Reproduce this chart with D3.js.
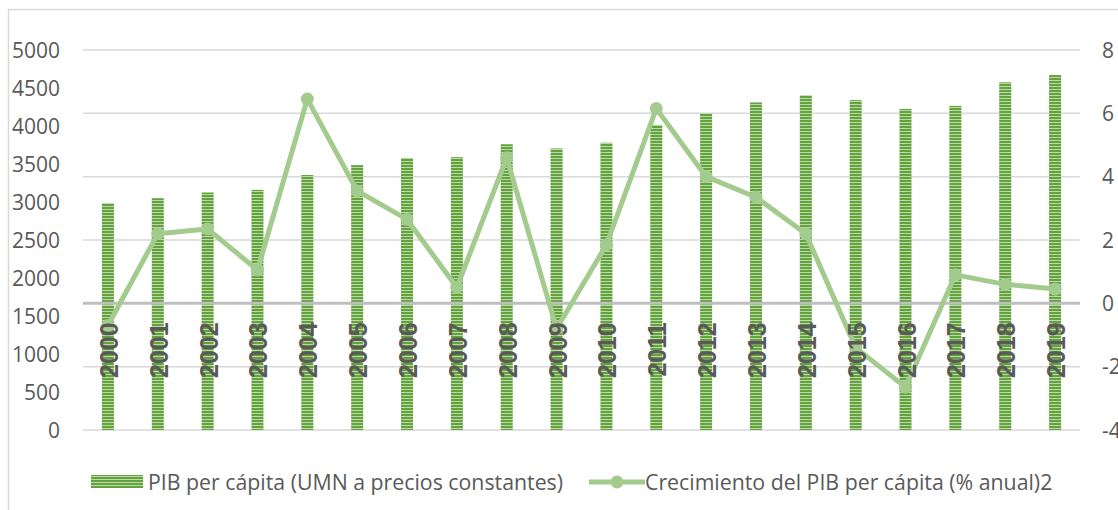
<!DOCTYPE html>
<html>
<head>
<meta charset="utf-8">
<script src="https://cdn.jsdelivr.net/npm/d3@7/dist/d3.min.js"></script>
<style>
  html, body { margin: 0; padding: 0; background: #fff; }
  svg { display: block; }
  text { font-family: "Open Sans", "Noto Sans", sans-serif; fill: #595959; }
</style>
</head>
<body>
<svg id="chart" width="1118" height="510"></svg>
<script>
// Years shown on the category axis
const years = ["2000","2001","2002","2003","2004","2005","2006","2007","2008","2009",
               "2010","2011","2012","2013","2014","2015","2016","2017","2018","2019"];

// PIB per cápita (UMN a precios constantes)
const pibPerCapita = [2985, 3050, 3125, 3160, 3355, 3485, 3580, 3590, 3760, 3705,
                      3780, 4015, 4165, 4310, 4405, 4340, 4225, 4265, 4575, 4670];

// Crecimiento del PIB per cápita (% anual)
const crecimiento = [-0.7, 2.2, 2.35, 1.05, 6.45, 3.55, 2.65, 0.5, 4.6, -0.8,
                     1.85, 6.15, 4.0, 3.35, 2.2, -1.4, -2.65, 0.9, 0.6, 0.45];

// Axis tick values
const leftTicks = [0, 500, 1000, 1500, 2000, 2500, 3000, 3500, 4000, 4500, 5000];
const rightTicks = [-4, -2, 0, 2, 4, 6, 8];

const seriesNames = ["PIB per cápita (UMN a precios constantes)",
                     "Crecimiento del PIB per cápita (% anual)2"];

const svg = d3.select("#chart");
const plot = { left: 83, right: 1080, top: 50, bottom: 430 };

const x = d3.scaleBand().domain(years).range([plot.left, plot.right]).paddingInner(0).paddingOuter(0);
const yLeft = d3.scaleLinear().domain([0, 5000]).range([plot.bottom, plot.top]);
const yRight = d3.scaleLinear().domain([-4, 8]).range([plot.bottom, plot.top]);

const lineColor = "#a4cb8e";
const labelSize = "21px";

// Striped fill for the columns
const defs = svg.append("defs");
const pat = defs.append("pattern")
  .attr("id", "stripes").attr("patternUnits", "userSpaceOnUse")
  .attr("width", 6).attr("height", 3);
pat.append("rect").attr("width", 6).attr("height", 3).attr("fill", "#64a23f");
pat.append("rect").attr("y", 2).attr("width", 6).attr("height", 1).attr("fill", "#b9d9a5");

// Chart frame
svg.append("rect")
  .attr("x", 8.5).attr("y", 9.5).attr("width", 1130).attr("height", 520)
  .attr("fill", "none").attr("stroke", "#d9d9d9").attr("stroke-width", 1.5);

// Gridlines from the secondary axis
svg.append("g").selectAll("line").data(rightTicks.filter(d => d !== 0)).join("line")
  .attr("x1", plot.left).attr("x2", plot.right)
  .attr("y1", d => yRight(d)).attr("y2", d => yRight(d))
  .attr("stroke", "#d9d9d9").attr("stroke-width", 1.5);

// Columns
const barW = 12;
svg.append("g").selectAll("rect").data(years).join("rect")
  .attr("x", (d) => x(d) + x.bandwidth() / 2 - barW / 2)
  .attr("width", barW)
  .attr("y", (d, i) => yLeft(pibPerCapita[i]))
  .attr("height", (d, i) => yLeft(0) - yLeft(pibPerCapita[i]))
  .attr("fill", "url(#stripes)");

// Zero line of the growth axis
svg.append("line")
  .attr("x1", plot.left).attr("x2", plot.right)
  .attr("y1", yRight(0)).attr("y2", yRight(0))
  .attr("stroke", "#bfbfbf").attr("stroke-width", 3);

// Growth line and markers
const line = d3.line()
  .x((d, i) => x(years[i]) + x.bandwidth() / 2)
  .y(d => yRight(d));
svg.append("path").datum(crecimiento)
  .attr("d", line).attr("fill", "none")
  .attr("stroke", lineColor).attr("stroke-width", 5).attr("stroke-linejoin", "round");
svg.append("g").selectAll("circle").data(crecimiento).join("circle")
  .attr("cx", (d, i) => x(years[i]) + x.bandwidth() / 2)
  .attr("cy", d => yRight(d))
  .attr("r", 6.5).attr("fill", lineColor);

// Category labels, rotated, hanging below the zero line
svg.append("g").selectAll("text").data(years).join("text")
  .attr("transform", d => `translate(${x(d) + x.bandwidth() / 2 + 1},${yRight(0) + 19}) rotate(-90)`)
  .attr("text-anchor", "end")
  .attr("dy", "0.36em")
  .style("font-family", "'Liberation Sans', Arial, sans-serif")
  .style("font-weight", "bold")
  .style("font-size", "25px")
  .text(d => d);

// Left axis labels
svg.append("g").selectAll("text").data(leftTicks).join("text")
  .attr("x", 60).attr("y", d => yLeft(d)).attr("dy", "0.36em")
  .attr("text-anchor", "end").style("font-size", labelSize)
  .text(d => d);

// Right axis labels
svg.append("g").selectAll("text").data(rightTicks).join("text")
  .attr("x", 1102).attr("y", d => yRight(d)).attr("dy", "0.36em")
  .attr("text-anchor", "start").style("font-size", labelSize)
  .text(d => d);

// Legend
const legY = 482;
const lg = svg.append("g");
lg.append("rect").attr("x", 91).attr("y", legY - 7).attr("width", 52).attr("height", 13)
  .attr("fill", "url(#stripes)");
lg.append("text").attr("x", 148).attr("y", legY).attr("dy", "0.36em")
  .style("font-size", "21.3px").text(seriesNames[0]);
lg.append("line").attr("x1", 589).attr("x2", 645).attr("y1", legY).attr("y2", legY)
  .attr("stroke", lineColor).attr("stroke-width", 5);
lg.append("circle").attr("cx", 617).attr("cy", legY).attr("r", 6.5).attr("fill", lineColor);
lg.append("text").attr("x", 645).attr("y", legY).attr("dy", "0.36em")
  .style("font-size", "21.3px").text(seriesNames[1]);
</script>
</body>
</html>
